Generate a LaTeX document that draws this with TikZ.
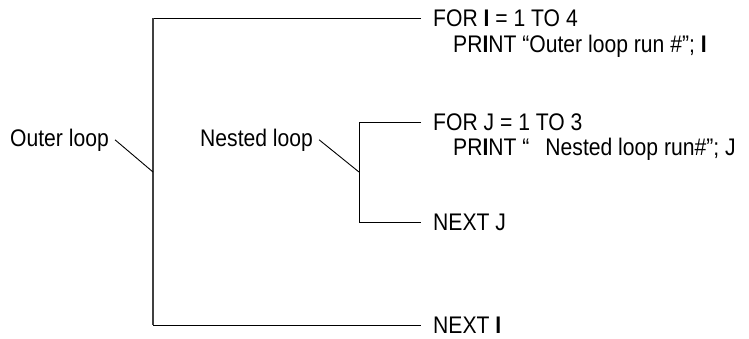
\documentclass[tikz,border=0pt]{standalone}
\usepackage{fontspec}
\setmainfont{Liberation Sans}[FakeStretch=0.88]
\usepackage{tikz}
\usetikzlibrary{positioning}
\colorlet{barline}{black!75}

\begin{document}
\begin{tikzpicture}[x=1pt, y=-1pt,
    code/.style={anchor=base west, inner xsep=12pt, inner ysep=0pt, font=\fontsize{24}{27}\selectfont},
    looplabel/.style={anchor=base west, inner xsep=6pt, inner ysep=0pt, font=\fontsize{24}{27}\selectfont},
    bracket/.style={draw=black, line width=0.9pt},
    pointer/.style={draw=black, line width=0.9pt}]
    \useasboundingbox (0,0) rectangle (749,338);

    % outer loop
    \coordinate (otop) at (153,18);
    \coordinate (obot) at (153,325);
    \coordinate (omid) at (153,172);
    \node[code] (forI) at (421,26) {FOR \textbf{I} = 1 TO 4};
    \node[code] (printI) at (441,52) {PR\textbf{I}NT “Outer loop run \#”; \textbf{I}};
    \node[code] (nextI) at (421,333) {NEXT \textbf{I}};
    \draw[bracket] (forI.base west |- otop) -- (otop);
    \draw[bracket] (obot) -- (nextI.base west |- obot);
    \draw[draw=barline, line width=1.5pt] (otop) -- (obot);

    \node[looplabel] (outer) at (4,146) {Outer loop};
    \draw[pointer] (outer.east) -- (omid);

    % nested loop
    \coordinate (ntop) at (359,122);
    \coordinate (nbot) at (359,222);
    \coordinate (nmid) at (359,172);
    \node[code] (forJ) at (421,130) {FOR J = 1 TO 3};
    \node[code] (printJ) at (441,155) {PR\textbf{I}NT “\hspace{16pt}Nested loop run\#”; J};
    \node[code] (nextJ) at (421,230) {NEXT J};
    \draw[bracket] (forJ.base west |- ntop) -- (ntop) -- (nbot) -- (nextJ.base west |- nbot);

    \node[looplabel] (nested) at (194,146) {Nested loop};
    \draw[pointer] (nested.east) -- (nmid);
\end{tikzpicture}
\end{document}
